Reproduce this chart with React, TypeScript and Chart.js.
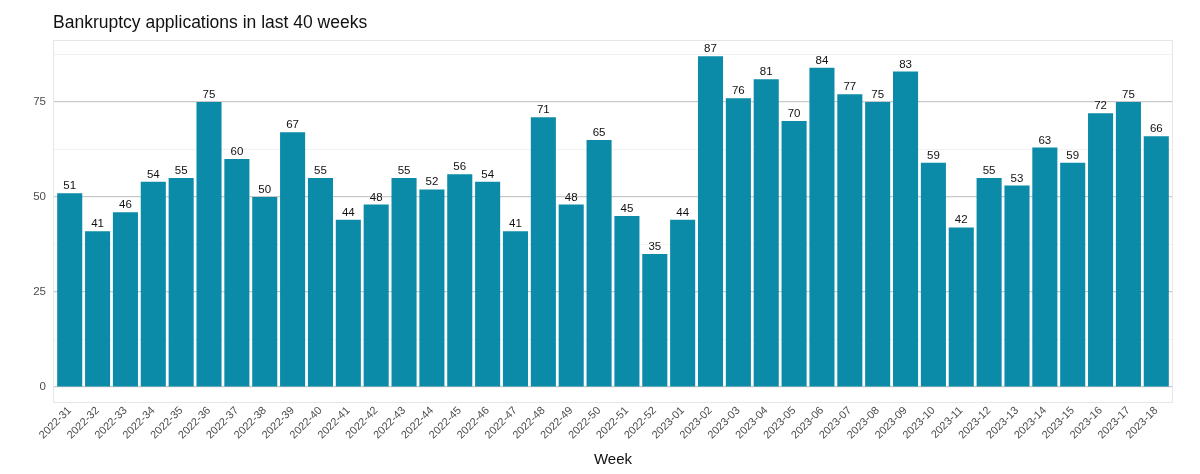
import React, { useEffect, useRef } from "react";
import { Chart, registerables } from "chart.js";

Chart.register(...registerables);

const weeks: string[] = [
  "2022-31", "2022-32", "2022-33", "2022-34", "2022-35", "2022-36", "2022-37", "2022-38",
  "2022-39", "2022-40", "2022-41", "2022-42", "2022-43", "2022-44", "2022-45", "2022-46",
  "2022-47", "2022-48", "2022-49", "2022-50", "2022-51", "2022-52", "2023-01", "2023-02",
  "2023-03", "2023-04", "2023-05", "2023-06", "2023-07", "2023-08", "2023-09", "2023-10",
  "2023-11", "2023-12", "2023-13", "2023-14", "2023-15", "2023-16", "2023-17", "2023-18",
];

const applications: number[] = [
  51, 41, 46, 54, 55, 75, 60, 50, 67, 55, 44, 48, 55, 52, 56, 54, 41, 71, 48, 65,
  45, 35, 44, 87, 76, 81, 70, 84, 77, 75, 83, 59, 42, 55, 53, 63, 59, 72, 75, 66,
];

const yTickLabels: number[] = [0, 25, 50, 75];

const TITLE = "Bankruptcy applications in last 40 weeks";
const FONT = "'Liberation Sans', Arial, sans-serif";

const decorPlugin = {
  id: "decor",
  beforeDraw(chart: any) {
    const { ctx } = chart;
    ctx.save();
    ctx.fillStyle = "#ffffff";
    ctx.fillRect(0, 0, chart.width, chart.height);
    ctx.restore();
  },
  afterDraw(chart: any) {
    const { ctx, chartArea } = chart;
    ctx.save();
    ctx.strokeStyle = "#e6e6e6";
    ctx.lineWidth = 1;
    ctx.strokeRect(chartArea.left + 0.5, chartArea.top + 0.5, chartArea.right - chartArea.left - 1, chartArea.bottom - chartArea.top - 1);
    ctx.fillStyle = "#111111";
    ctx.font = `17.5px ${FONT}`;
    ctx.textAlign = "left";
    ctx.textBaseline = "alphabetic";
    ctx.fillText(TITLE, 53, 28);
    const meta = chart.getDatasetMeta(0);
    ctx.font = `11.5px ${FONT}`;
    ctx.textAlign = "center";
    ctx.textBaseline = "alphabetic";
    ctx.fillStyle = "#111111";
    meta.data.forEach((bar: any, i: number) => {
      ctx.fillText(String(applications[i]), bar.x, bar.y - 4);
    });
    ctx.restore();
  },
};

export default function App() {
  const ref = useRef<HTMLCanvasElement>(null);
  useEffect(() => {
    document.body.style.margin = "0";
    const chart = new Chart(ref.current!, {
      type: "bar",
      data: {
        datasets: [
          {
            data: applications.map((v, i) => ({ x: i, y: v })),
            backgroundColor: "#0b8ba8",
            borderWidth: 0,
            barPercentage: 0.9,
            categoryPercentage: 1,
          },
        ],
      },
      options: {
        animation: false,
        responsive: false,
        devicePixelRatio: 1,
        layout: { padding: { top: 40, right: 27, left: 0, bottom: 0 } },
        plugins: {
          legend: { display: false },
          title: { display: false },
          tooltip: { enabled: false },
        },
        scales: {
          x: {
            type: "linear",
            min: -0.6,
            max: 39.6,
            offset: false,
            afterBuildTicks: (scale: any) => {
              scale.ticks = weeks.map((_, i) => ({ value: i }));
            },
            afterFit: (scale: any) => {
              scale.height = 71;
            },
            grid: { display: false, drawTicks: false },
            border: { display: false },
            ticks: {
              autoSkip: false,
              maxRotation: 45,
              minRotation: 45,
              padding: 1,
              color: "#4d4d4d",
              font: { family: FONT, size: 11 },
              callback: (v: any) => weeks[Number(v)] ?? "",
            },
            title: {
              display: true,
              text: "Week",
              color: "#111111",
              font: { family: FONT, size: 15 },
              padding: { top: 0, bottom: 5 },
            },
          },
          y: {
            min: -4.2,
            max: 91.3,
            afterBuildTicks: (scale: any) => {
              scale.ticks = [0, 12.5, 25, 37.5, 50, 62.5, 75, 87.5].map((v) => ({ value: v }));
            },
            afterFit: (scale: any) => {
              scale.width = 53;
            },
            grid: {
              drawTicks: false,
              color: (c: any) => (yTickLabels.includes(c.tick?.value) ? "#c9c9c9" : "#efefef"),
              lineWidth: (c: any) => (yTickLabels.includes(c.tick?.value) ? 1.2 : 0.8),
            },
            border: { display: false },
            ticks: {
              padding: 7,
              color: "#4d4d4d",
              font: { family: FONT, size: 11.5 },
              callback: (v: any) => (yTickLabels.includes(Number(v)) ? String(v) : ""),
            },
          },
        },
      },
      plugins: [decorPlugin],
    });
    return () => chart.destroy();
  }, []);
  return (
    <div style={{ position: "absolute", left: 0, top: 0, width: 1200, height: 474 }}>
      <canvas ref={ref} width={1200} height={474} style={{ width: 1200, height: 474 }} />
    </div>
  );
}
